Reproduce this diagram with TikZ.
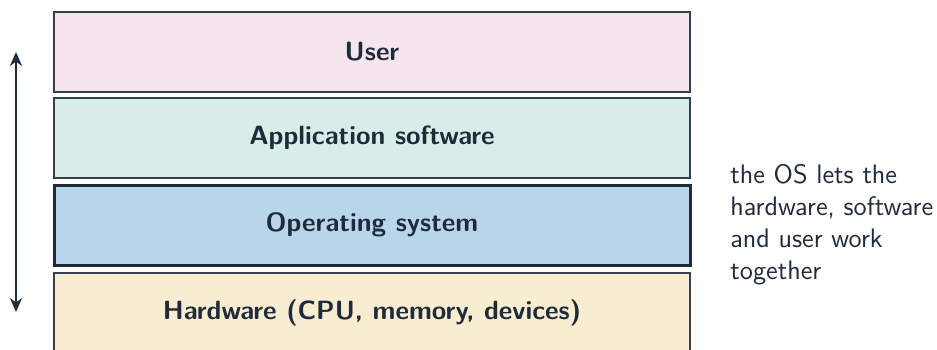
\documentclass[tikz,border=0pt]{standalone}
\usepackage{tikz}
\usetikzlibrary{arrows.meta}
\definecolor{ink}{HTML}{1F2A3A}
\definecolor{uf}{HTML}{F5E6EE}
\definecolor{af}{HTML}{D6EEE7}
\definecolor{of}{HTML}{B8D6E9}
\definecolor{hf}{HTML}{F8EDD1}
\begin{document}
\begin{tikzpicture}[x=0.5pt,y=-0.5pt,
  layer/.style={draw=ink!90, line width=1pt, minimum width=318pt, minimum height=40pt, inner sep=0pt, font=\sffamily\bfseries\fontsize{13.2}{16}\selectfont, text=ink},
  note/.style={align=left, anchor=north west, text=ink, font=\sffamily\fontsize{13.4}{16}\selectfont, inner sep=0pt}]
\useasboundingbox (0,0) rectangle (937,349);
\node[layer, fill=uf] (user) at (372,51.5) {User};
\node[layer, fill=af] (app) at (372,138) {Application software};
\node[layer, fill=of, line width=1.5pt, draw=ink] (os) at (372,225) {Operating system};
\node[layer, fill=hf] (hw) at (372,312.5) {Hardware (CPU, memory, devices)};
\coordinate (atop) at (16,52);
\coordinate (abot) at (16,312);
\draw[ink, line width=1.2pt, {Stealth[length=7pt,width=6pt]}-{Stealth[length=7pt,width=6pt]}] (atop) -- (abot);
\node[note] (txt) at (730,164) {the OS lets the\\hardware, software\\and user work\\together};
\end{tikzpicture}
\end{document}
